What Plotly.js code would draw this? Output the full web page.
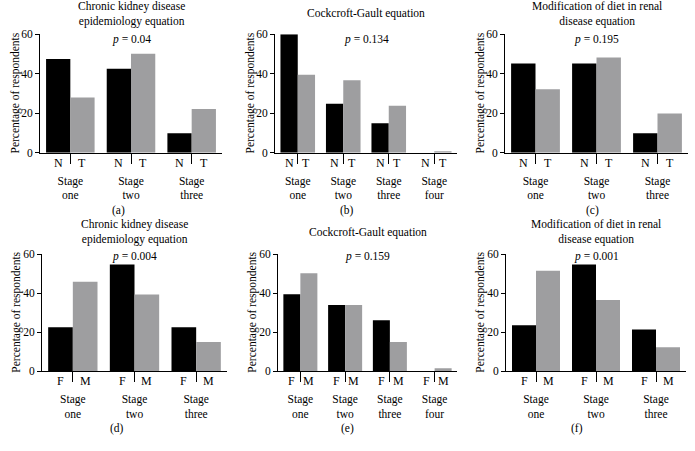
<!DOCTYPE html>
<html>
<head>
<meta charset="utf-8">
<script src="https://cdn.plot.ly/plotly-3.0.1.min.js"></script>
<style>
  html, body { margin: 0; padding: 0; background: #fff; }
  #chart { width: 695px; height: 451px; }
</style>
</head>
<body>
<div id="chart"></div>
<script>
// categories
const stages3 = ['Stage<br>one', 'Stage<br>two', 'Stage<br>three'];
const stages4 = ['Stage<br>one', 'Stage<br>two', 'Stage<br>three', 'Stage<br>four'];

// top row: N / T
const ckdN = [47.5, 42.5, 9.8];
const ckdT = [28.0, 50.2, 22.2];
const cgN = [60.0, 24.8, 14.9, 0];
const cgT = [39.5, 36.7, 23.8, 0.7];
const mdrdN = [45.2, 45.2, 9.8];
const mdrdT = [32.2, 48.2, 19.9];

// bottom row: F / M
const ckdF = [22.5, 54.7, 22.5];
const ckdM = [45.9, 39.3, 14.9];
const cgF = [39.4, 33.9, 26.1, 0];
const cgM = [50.2, 33.9, 14.9, 1.4];
const mdrdF = [23.5, 54.7, 21.4];
const mdrdM = [51.6, 36.5, 12.2];

const titles = {
  ckd: 'Chronic kidney disease<br>epidemiology equation',
  cg: 'Cockcroft-Gault equation',
  mdrd: 'Modification of diet in renal<br>disease equation'
};

const W = 695, H = 451;
const FONT = "'Liberation Serif', 'DejaVu Serif', serif";
const BLACK = '#000000';
const GREY = '#9e9ea0';

// panel layout in px (left, right, top, bottom of plot area)
const panels = [
  { id: '', cats: stages3, a: ckdN, b: ckdT, la: 'N', lb: 'T', title: titles.ckd, p: '0.04', box: [40, 222, 34.3, 152.7], cap: '(a)', capX: 118, capY: 211, tShift: 4 },
  { id: '2', cats: stages4, a: cgN, b: cgT, la: 'N', lb: 'T', title: titles.cg, p: '0.134', box: [275, 457, 34.3, 152.7], cap: '(b)', capX: 347, capY: 211, tShift: 12 },
  { id: '3', cats: stages3, a: mdrdN, b: mdrdT, la: 'N', lb: 'T', title: titles.mdrd, p: '0.195', box: [505, 688, 34.3, 152.7], cap: '(c)', capX: 592, capY: 211, tShift: 4 },
  { id: '4', cats: stages3, a: ckdF, b: ckdM, la: 'F', lb: 'M', title: titles.ckd, p: '0.004', box: [42, 227, 254.3, 371], cap: '(d)', capX: 117, capY: 428, tShift: 6 },
  { id: '5', cats: stages4, a: cgF, b: cgM, la: 'F', lb: 'M', title: titles.cg, p: '0.159', box: [278, 457, 254.3, 371], cap: '(e)', capX: 347, capY: 428, tShift: 13 },
  { id: '6', cats: stages3, a: mdrdF, b: mdrdM, la: 'F', lb: 'M', title: titles.mdrd, p: '0.001', box: [506, 686, 254.3, 371], cap: '(f)', capX: 577, capY: 428, tShift: 6 }
];

const traces = [];
const annotations = [];
const layout = {
  width: W,
  height: H,
  margin: { l: 0, r: 0, t: 0, b: 0 },
  paper_bgcolor: '#ffffff',
  plot_bgcolor: '#ffffff',
  showlegend: false,
  barmode: 'overlay',
  font: { family: FONT, size: 11, color: '#000' }
};

panels.forEach(pn => {
  const xa = 'x' + pn.id, ya = 'y' + pn.id;
  const w = pn.cats.length === 4 ? 0.38 : 0.4;
  const [l, r, t, b] = pn.box;

  traces.push({
    type: 'bar', x: pn.cats, y: pn.a, xaxis: xa, yaxis: ya,
    width: w, offset: -w, marker: { color: BLACK }, hoverinfo: 'y'
  });
  traces.push({
    type: 'bar', x: pn.cats, y: pn.b, xaxis: xa, yaxis: ya,
    width: w, offset: 0, marker: { color: GREY }, hoverinfo: 'y'
  });

  layout['xaxis' + pn.id] = {
    domain: [l / W, r / W],
    anchor: ya,
    type: 'category',
    range: [-0.5, pn.cats.length - 0.5],
    showline: true, linecolor: '#000', linewidth: 1,
    ticks: 'outside', ticklen: 10, tickcolor: '#000', tickwidth: 1,
    ticklabelstandoff: 7,
    tickfont: { family: FONT, size: 11.5, color: '#000' },
    showgrid: false, zeroline: false, fixedrange: true
  };
  layout['yaxis' + pn.id] = {
    domain: [1 - b / H, 1 - t / H],
    anchor: xa,
    range: [0, 60],
    tickvals: [0, 20, 40, 60],
    showline: true, linecolor: '#000', linewidth: 1,
    ticks: 'outside', ticklen: 4, tickcolor: '#000', tickwidth: 1,
    tickfont: { family: FONT, size: 11.5, color: '#000' },
    showgrid: false, zeroline: false, fixedrange: true
  };

  // N/T or F/M under each bar
  pn.cats.forEach((c, i) => {
    annotations.push({
      xref: xa, yref: ya, x: i - w / 2, y: 0, yshift: -10,
      text: pn.la, showarrow: false, xanchor: 'center', yanchor: 'middle',
      font: { family: FONT, size: 12 }
    });
    annotations.push({
      xref: xa, yref: ya, x: i + w / 2, y: 0, yshift: -10,
      text: pn.lb, showarrow: false, xanchor: 'center', yanchor: 'middle',
      font: { family: FONT, size: 12 }
    });
  });

  // panel title
  annotations.push({
    xref: xa + ' domain', yref: ya + ' domain', x: 0.5, y: 1, yshift: pn.tShift,
    text: pn.title, showarrow: false, xanchor: 'center', yanchor: 'bottom',
    font: { family: FONT, size: 11.5 }
  });
  // p value
  annotations.push({
    xref: xa + ' domain', yref: ya + ' domain', x: 0.5, y: 1,
    yshift: t < 100 ? -5.5 : -2.5,
    text: '<i>p</i> = ' + pn.p, showarrow: false, xanchor: 'center', yanchor: 'middle',
    font: { family: FONT, size: 11.5 }
  });
  // y axis title
  annotations.push({
    xref: xa + ' domain', yref: ya + ' domain', x: 0, y: 0.5, xshift: -25,
    text: 'Percentage of respondents', textangle: -90, showarrow: false,
    xanchor: 'center', yanchor: 'middle',
    font: { family: FONT, size: 11.5 }
  });
  // caption
  annotations.push({
    xref: 'paper', yref: 'paper', x: pn.capX / W, y: 1 - pn.capY / H,
    text: pn.cap, showarrow: false, xanchor: 'center', yanchor: 'middle',
    font: { family: FONT, size: 11.5 }
  });
});

layout.annotations = annotations;

Plotly.newPlot('chart', traces, layout, { displayModeBar: false, staticPlot: true });
</script>
</body>
</html>
